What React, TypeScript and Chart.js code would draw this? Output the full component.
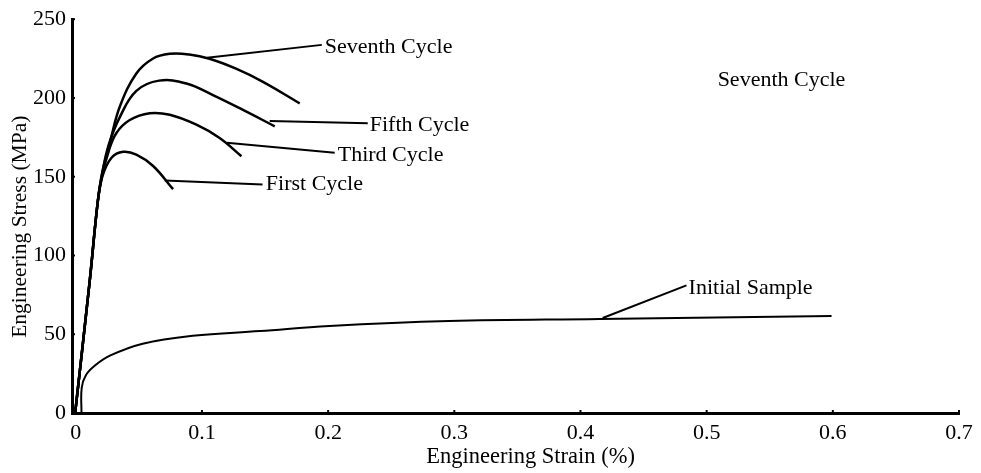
import React, { useEffect, useRef } from "react";
import { Chart, registerables } from "chart.js";

Chart.register(...registerables);

// ---- data (strain in %, stress in MPa) ----
const firstStrain = [-0.0005, 0.011, 0.0174, 0.021, 0.0283, 0.0375, 0.048, 0.0613, 0.0771];
const firstStress = [0, 83.5, 134, 150, 162, 165.8, 164, 156.8, 142.1];

const thirdStrain = [-0.0005, 0.011, 0.0174, 0.021, 0.026, 0.0322, 0.0428, 0.0586, 0.0745, 0.0956, 0.114, 0.1313];
const thirdStress = [0, 83.5, 134, 151, 166, 177.8, 186, 190.3, 189.3, 183, 174.6, 163];

const fifthStrain = [-0.0005, 0.011, 0.0174, 0.021, 0.026, 0.035, 0.048, 0.066, 0.0877, 0.1087, 0.1325, 0.1577];
const fifthStress = [0, 83.5, 134, 152, 170, 188, 204.5, 211, 209.2, 201.8, 192.4, 182];

const seventhStrain = [-0.0005, 0.011, 0.0174, 0.021, 0.027, 0.035, 0.048, 0.061, 0.0745, 0.09, 0.106, 0.127, 0.148, 0.1775];
const seventhStress = [0, 83.5, 134, 153, 171.5, 194.7, 215.5, 224.9, 228, 227.6, 224.9, 218.6, 210.4, 196.6];

const initialStrain = [0.0045, 0.0047, 0.008, 0.015, 0.027, 0.053, 0.0927, 0.146, 0.201, 0.296, 0.415, 0.599];
const initialStress = [0, 16, 24, 30, 36.4, 44, 49, 52, 55.3, 58.4, 59.7, 61.6];

// leader lines: [fromStrain, fromStress, toStrain, toStress]
const leaderSeventh = [0.104, 225.5, 0.195, 233.7];
const leaderFifth = [0.1537, 185.3, 0.2314, 184];
const leaderThird = [0.1197, 171.5, 0.2052, 165.2];
const leaderFirst = [0.0705, 147.6, 0.148, 145.1];
const leaderInitial = [0.4176, 60.3, 0.484, 81];

// annotation texts anchored at data coordinates (left, baseline)
const annotationTexts = ["Seventh Cycle", "Fifth Cycle", "Third Cycle", "First Cycle", "Initial Sample", "Seventh Cycle"];
const annotationStrain = [0.1973, 0.233, 0.2076, 0.1506, 0.4857, 0.5087];
const annotationStress = [228.6, 179, 160.2, 141.3, 75.4, 207.3];

const xTicks = [0, 0.1, 0.2, 0.3, 0.4, 0.5, 0.6, 0.7];
const yTicks = [0, 50, 100, 150, 200, 250];

const xTitle = "Engineering Strain (%)";
const yTitle = "Engineering Stress (MPa)";

const FONT = "'Liberation Serif', 'Times New Roman', serif";

const toPoints = (xs: number[], ys: number[]) => xs.map((x, i) => ({ x, y: ys[i] }));
const leaderPoints = (l: number[]) => [{ x: l[0], y: l[1] }, { x: l[2], y: l[3] }];

const overlayPlugin = {
  id: "overlay",
  afterDraw(chart: any) {
    const { ctx, chartArea, scales } = chart;
    const xs = scales.x;
    const ys = scales.y;
    ctx.save();
    // inward tick marks
    ctx.strokeStyle = "#000";
    ctx.lineWidth = 2;
    xTicks.forEach((v) => {
      const px = xs.getPixelForValue(v);
      ctx.beginPath();
      ctx.moveTo(px, chartArea.bottom);
      ctx.lineTo(px, chartArea.bottom - 3);
      ctx.stroke();
    });
    yTicks.forEach((v) => {
      const py = ys.getPixelForValue(v);
      ctx.beginPath();
      ctx.moveTo(chartArea.left, py);
      ctx.lineTo(chartArea.left + 3, py);
      ctx.stroke();
    });
    // annotation texts
    ctx.fillStyle = "#000";
    ctx.font = `22px ${FONT}`;
    ctx.textAlign = "left";
    ctx.textBaseline = "alphabetic";
    annotationTexts.forEach((t, i) => {
      ctx.fillText(t, xs.getPixelForValue(annotationStrain[i]), ys.getPixelForValue(annotationStress[i]));
    });
    // axis titles
    ctx.textAlign = "center";
    ctx.textBaseline = "middle";
    ctx.font = `22.5px ${FONT}`;
    ctx.fillText(xTitle, chartArea.left + (chartArea.right - chartArea.left) * 0.517, chartArea.bottom + 44);
    ctx.font = `21.5px ${FONT}`;
    ctx.translate(chartArea.left - 52, chartArea.top + (chartArea.bottom - chartArea.top) * 0.527);
    ctx.rotate(-Math.PI / 2);
    ctx.fillText(yTitle, 0, 0);
    ctx.restore();
  },
};

export default function App() {
  const canvasRef = useRef<HTMLCanvasElement | null>(null);

  useEffect(() => {
    const canvas = canvasRef.current;
    if (!canvas) return;
    const curve = (data: any[], width: number) => ({
      data,
      borderColor: "#000",
      borderWidth: width,
      pointRadius: 0,
      fill: false,
      tension: 0.4,
    });
    const leader = (l: number[]) => ({
      data: leaderPoints(l),
      borderColor: "#000",
      borderWidth: 2,
      pointRadius: 0,
      fill: false,
      tension: 0,
    });
    const chart = new Chart(canvas, {
      type: "line",
      data: {
        datasets: [
          curve(toPoints(firstStrain, firstStress), 2.5),
          curve(toPoints(thirdStrain, thirdStress), 2.5),
          curve(toPoints(fifthStrain, fifthStress), 2.5),
          curve(toPoints(seventhStrain, seventhStress), 2.5),
          curve(toPoints(initialStrain, initialStress), 2),
          leader(leaderSeventh),
          leader(leaderFifth),
          leader(leaderThird),
          leader(leaderFirst),
          leader(leaderInitial),
        ],
      },
      options: {
        responsive: false,
        animation: false,
        layout: { padding: { left: 0, top: 15, right: 22, bottom: 0 } },
        plugins: { legend: { display: false }, tooltip: { enabled: false } },
        scales: {
          x: {
            type: "linear",
            min: -0.003,
            max: 0.7,
            afterBuildTicks: (scale: any) => {
              scale.ticks = xTicks.map((v) => ({ value: v }));
            },
            afterFit: (scale: any) => {
              scale.height = 60;
            },
            grid: { display: false, drawTicks: false },
            border: { display: true, color: "#000", width: 3 },
            ticks: {
              color: "#000",
              font: { family: FONT, size: 22 },
              padding: 7,
              maxRotation: 0,
              autoSkip: false,
              callback: (v: any) => String(Math.round(Number(v) * 10) / 10),
            },
          },
          y: {
            type: "linear",
            min: 0,
            max: 250,
            afterBuildTicks: (scale: any) => {
              scale.ticks = yTicks.map((v) => ({ value: v }));
            },
            afterFit: (scale: any) => {
              scale.width = 72;
            },
            grid: { display: false, drawTicks: false },
            border: { display: true, color: "#000", width: 3 },
            ticks: {
              color: "#000",
              font: { family: FONT, size: 22 },
              padding: 6,
              callback: (v: any) => String(v),
            },
          },
        },
      },
      plugins: [overlayPlugin],
    });
    return () => chart.destroy();
  }, []);

  return (
    <div style={{ position: "fixed", left: 0, top: 0, width: 981, height: 473, background: "#fff" }}>
      <canvas ref={canvasRef} width={981} height={473} style={{ width: 981, height: 473, display: "block" }} />
    </div>
  );
}
